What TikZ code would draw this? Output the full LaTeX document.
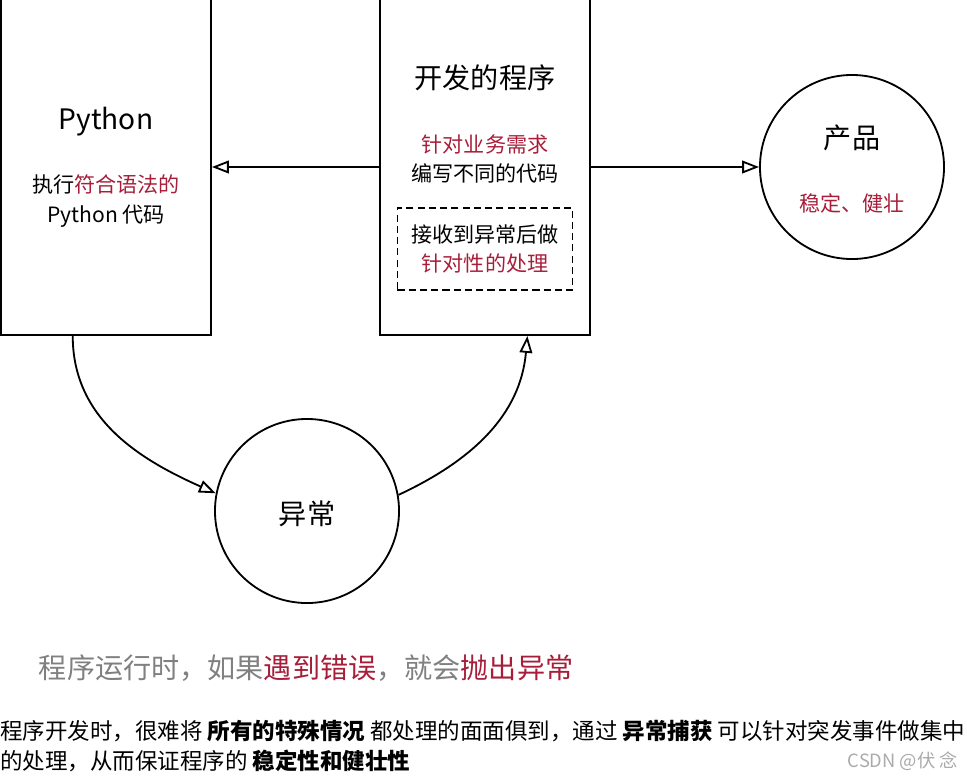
\documentclass[tikz,border=0pt]{standalone}
\usepackage{fontspec}
\setmainfont{Noto Sans CJK SC}
\usetikzlibrary{arrows.meta,calc}

\definecolor{hlred}{RGB}{168,30,58}
\definecolor{capgray}{RGB}{128,128,128}
\definecolor{markgray}{RGB}{170,170,170}

\newcommand{\titlesize}{\fontsize{20}{24}\selectfont}
\newcommand{\bodysize}{\fontsize{15}{21}\selectfont}
\newcommand{\capsize}{\fontsize{20}{24}\selectfont}
\newcommand{\notesize}{\fontsize{16}{21}\selectfont}

\tikzset{
    blockbox/.style={draw, line width=1.3pt, minimum width=5.25cm,
        minimum height=8.625cm, inner sep=0pt},
    stagecircle/.style={draw, circle, line width=1.3pt,
        minimum size=4.6cm, inner sep=0pt},
    flow/.style={line width=1.3pt,
        -{Triangle[open,length=12pt,width=9pt]}},
    hl/.style={text=hlred}
}

\begin{document}
\begin{tikzpicture}[x=0.025cm, y=-0.025cm, font=\bodysize]
        \useasboundingbox (0,0) rectangle (967,777);
        \clip (0,0) rectangle (967,777);

        % the two boxes run off the top edge
        \node[blockbox] (python) at (106,162.5) {};
        \node[blockbox] (devprog) at (485,162.5) {};
        \node[stagecircle] (product) at (852,167) {};
        \node[stagecircle] (exc) at (307,511) {};

        \node[font=\titlesize] (pyTitle) at (106,122) {Python};
        \node[align=center] (pyText) at (106,201)
            {执行\textcolor{hlred}{符合语法的}\\Python 代码};

        \node[font=\titlesize] (devTitle) at (485,78) {开发的程序};
        \node[align=center] (devText) at (485,159)
            {\textcolor{hlred}{针对业务需求}\\编写不同的代码};
        \node[draw, dash pattern=on 5pt off 3pt, line width=1.3pt,
            minimum width=4.375cm, minimum height=2.05cm, align=center]
            (catchBox) at (485,249)
            {接收到异常后做\\\textcolor{hlred}{针对性的处理}};

        \node[font=\titlesize] (prodTitle) at (852,138) {产品};
        \node[hl] (prodText) at (852,203) {稳定、健壮};

        \node[font=\titlesize] (excTitle) at (307,514) {异常};

        \draw[flow] (devprog.west |- product.west) -- (python.east |- product.west);
        \draw[flow] (devprog.east |- product.west) -- (product.west);

        \coordinate (pyOut) at ($(python.south west)!0.343!(python.south east)$);
        \coordinate (devIn) at ($(devprog.south west)!0.70!(devprog.south east)$);
        \draw[flow] (pyOut) to[out=-90, in=156] (exc.169);
        \draw[flow] (exc.10) to[out=25, in=-95] (devIn);

        \node[font=\capsize, text=capgray, anchor=west] (caption) at (34,668)
            {程序运行时，如果\textcolor{hlred}{遇到错误}，就会\textcolor{hlred}{抛出异常}};

        \node[font=\notesize, anchor=west, inner sep=0pt] (noteA) at (0,731)
            {程序开发时，很难将 \textbf{所有的特殊情况} 都处理的面面俱到，通过 \textbf{异常捕获} 可以针对突发事件做集中};
        \node[font=\notesize, anchor=west, inner sep=0pt] (noteB) at (0,761)
            {的处理，从而保证程序的 \textbf{稳定性和健壮性}};
        \node[font=\fontsize{13}{15}\selectfont, text=markgray, anchor=east,
            inner sep=0pt] (mark) at (958,761) {CSDN @伏 念};
    \end{tikzpicture}
\end{document}
